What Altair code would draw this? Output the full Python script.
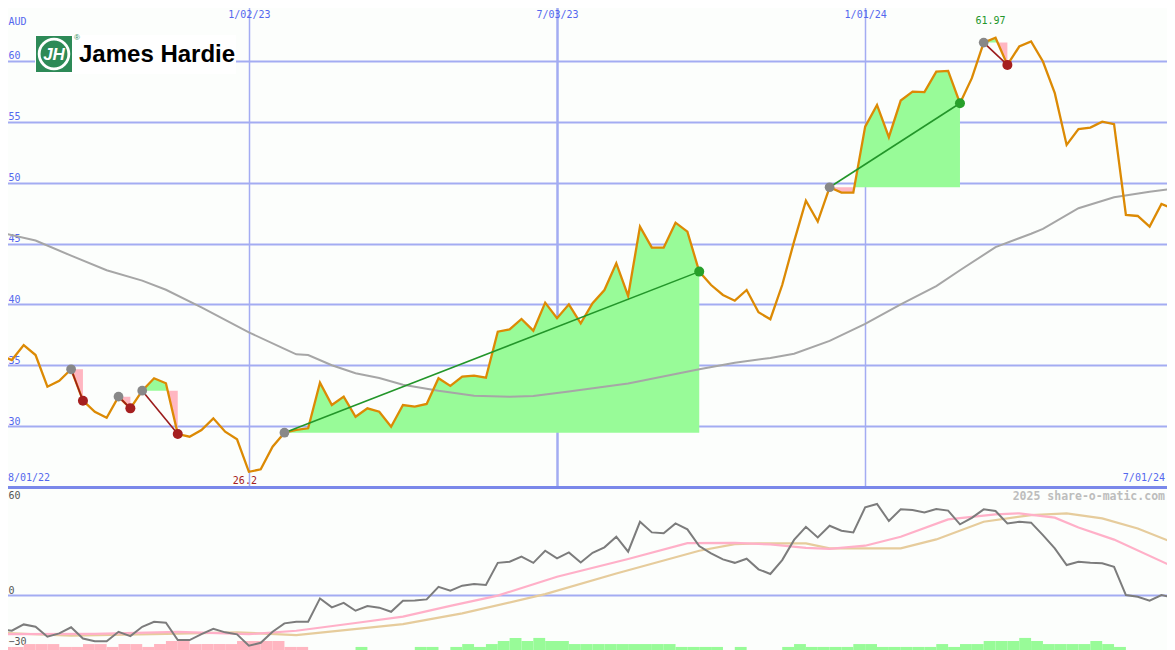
import altair as alt
import pandas as pd

# ---------------- data ----------------
first_week = "2022-08-08"      # first weekly close (left edge)
x_end = "2024-07-02"           # right edge of the time axis
currency = "AUD"
brand = "James Hardie"
watermark = "2025 share-o-matic.com"
edge_labels = ["8/01/22", "7/01/24"]

# weekly closing prices (AUD), one per week from first_week
price = [35.84, 35.43, 36.66, 35.84, 33.24, 33.73, 34.67, 32.09, 31.18, 30.69,
         32.42, 31.46, 32.91, 33.93, 33.52, 29.35, 29.13, 29.68, 30.64, 29.54,
         28.92, 26.25, 26.45, 28.31, 29.46, 29.70, 29.82, 33.57, 31.73, 32.42,
         30.77, 31.46, 31.18, 29.95, 31.73, 31.60, 31.82, 33.93, 33.30, 34.06,
         34.14, 33.98, 37.76, 37.95, 38.80, 37.84, 40.14, 38.86, 40.00, 38.45,
         40.09, 41.18, 43.38, 40.69, 46.39, 44.66, 44.66, 46.71, 45.97, 42.69,
         41.59, 40.77, 40.30, 41.18, 39.35, 38.78, 41.59, 45.15, 48.52, 46.80,
         49.62, 49.18, 49.18, 54.60, 56.38, 53.73, 56.74, 57.48, 57.43, 59.12,
         59.18, 56.52, 58.58, 61.50, 61.90, 59.67, 61.18, 61.59, 59.95, 57.35,
         53.10, 54.39, 54.52, 55.01, 54.80, 47.35, 47.26, 46.39, 48.25, 47.84]

# long moving average (grey), sampled at these week numbers
ma_week = [0, 3, 6, 9, 12, 14, 17, 21, 24, 25, 26, 28, 30, 32, 34, 37, 40, 43, 45,
           48, 53, 59, 62, 65, 67, 70, 73, 76, 79, 81, 84, 87, 88, 91, 94, 97, 99]
ma_value = [45.9, 45.25, 44.0, 42.8, 41.95, 41.2, 39.75, 37.7, 36.35, 35.9, 35.84,
            35.0, 34.35, 33.95, 33.4, 32.9, 32.5, 32.42, 32.47, 32.85, 33.5, 34.67,
            35.2, 35.6, 35.95, 37.0, 38.4, 40.0, 41.5, 42.8, 44.7, 45.8, 46.2, 47.9,
            48.8, 49.25, 49.5]

# lower panel: oscillator (dark grey), one per week
osc = [-19.1, -19.8, -16.3, -17.6, -23.1, -21.3, -17.9, -24.1, -25.6, -25.6,
       -20.4, -22.8, -17.6, -14.8, -15.4, -25.0, -25.0, -21.7, -18.7, -20.7,
       -21.8, -28.1, -26.5, -20.4, -15.7, -14.8, -14.8, -1.85, -6.85, -4.3,
       -8.7, -6.1, -7.0, -9.3, -3.1, -3.0, -2.4, 4.6, 2.4, 5.2,
       6.1, 5.6, 17.9, 18.5, 21.3, 17.9, 24.6, 20.4, 23.7, 18.1,
       23.5, 26.5, 32.4, 24.1, 40.7, 34.8, 34.3, 39.8, 36.5, 27.2,
       23.1, 19.8, 17.9, 20.2, 14.3, 11.7, 19.4, 30.6, 37.9, 32.0,
       38.5, 35.7, 34.8, 48.7, 50.6, 41.1, 47.6, 47.2, 45.9, 47.8,
       46.9, 39.3, 42.9, 47.6, 46.7, 39.8, 40.7, 40.2, 33.3, 25.9,
       16.7, 18.5, 17.9, 17.6, 15.7, 0.0, -0.9, -3.1, 0.0, -1.3]

# lower panel: fast signal (pink) and slow signal (tan)
pink_week = [0, 8, 15, 21, 25, 30, 34, 38, 42, 47, 53, 58, 62, 65, 68, 70, 73, 76,
             80, 84, 86, 89, 91, 94, 99]
pink_value = [-21.7, -21.5, -20.4, -21.7, -19.8, -15.5, -12.0, -6.0, -0.3, 10.2,
              20.0, 28.8, 29.0, 28.1, 26.2, 25.6, 27.4, 32.4, 42.0, 44.8, 45.4,
              43.0, 37.5, 30.8, 15.7]
tan_week = [0, 6, 14, 20, 25, 34, 39, 46, 52, 59, 62, 64, 68, 70, 76, 79, 83, 87,
            90, 93, 96, 99]
tan_value = [-20.9, -22.6, -21.5, -20.7, -22.2, -16.1, -10.2, 0.5, 12.0, 24.6,
             28.3, 28.7, 28.7, 25.9, 25.9, 30.9, 40.7, 44.4, 45.4, 42.6, 37.0, 29.1]

# lower panel: weekly histogram (negative = pink, positive = green)
hist = [-1.7, -1.7, -3.3, -3.3, -3.3, -1.7, -1.7, -3.3, -3.3, -1.7,
        -3.3, -3.3, -1.7, -3.3, -5.0, -5.0, -3.3, -3.3, -3.3, -3.3,
        -5.0, -5.0, -5.0, -5.0, -1.7, -1.7, 0, 0, 0, 0,
        1.7, 0, 0, 0, 0, 1.7, 1.7, 0, 1.7, 3.3,
        1.7, 3.3, 5.0, 6.7, 5.0, 6.7, 5.0, 5.0, 3.3, 3.3,
        3.3, 3.3, 3.3, 3.3, 3.3, 3.3, 3.3, 1.7, 1.7, 1.7,
        1.7, 0, 1.7, 0, 0, 0, 1.7, 3.3, 1.7, 1.7,
        1.7, 1.7, 3.3, 3.3, 1.7, 1.7, 1.7, 1.7, 1.7, 3.3,
        1.7, 3.3, 3.3, 5.0, 5.0, 5.0, 6.7, 5.0, 3.3, 3.3,
        3.3, 3.3, 5.0, 3.3, 1.7, 0, 0, 0, 0, 0]

# trades: week of entry and week of exit
trade_entry = [6, 10, 12, 24, 70, 83]
trade_exit = [7, 11, 15, 59, 81, 85]

low_label = (21, 26.2, "26.2")
high_label = (84, 61.97, "61.97")

price_ticks = [30, 35, 40, 45, 50, 55, 60]
osc_ticks = [-30, 0, 60]
date_ticks = ["2023-01-02", "2023-07-03", "2024-01-01"]

# ---------------- helpers ----------------
start = pd.Timestamp(first_week)
end = pd.Timestamp(x_end)


def wk(t):
    return start + pd.to_timedelta(7 * t, unit="D")


def dt(s):
    ts = pd.Timestamp(s)
    return alt.DateTime(year=ts.year, month=ts.month, date=ts.day)


MONO = "DejaVu Sans Mono"
BLUE = "#5468ee"
GRID = "#a3acf2"
ORANGE = "#dc8a04"
PALEGREEN = "#98fb98"
LIGHTPINK = "#ffb6c1"

x_scale = alt.Scale(domain=[dt(first_week), dt(x_end)])
x_axis = alt.Axis(orient="top", values=[dt(d) for d in date_ticks], format="%-m/%d/%y",
                  title=None, domain=False, ticks=False, tickSize=0,
                  labelPadding=-9, labelBaseline="top", labelColor=BLUE,
                  labelFont=MONO, labelFontSize=10, labelFlush=False, labelOverlap=False,
                  grid=True, gridColor=GRID,
                  gridWidth={"condition": {"test": "month(datum.value) == 6", "value": 2.5},
                             "value": 1.5})

top_scale = alt.Scale(domain=[25, 65], range=[487, 0], nice=False, zero=False)
top_axis = alt.Axis(orient="left", values=price_ticks, title=currency, titleAngle=0,
                    titleAlign="left", titleBaseline="bottom", titleX=8, titleY=26,
                    titleColor=BLUE, titleFont=MONO, titleFontSize=10,
                    titleFontWeight="normal", domain=False, ticks=False, tickSize=0,
                    labelAlign="left", labelBaseline="bottom", labelPadding=-8,
                    labelColor=BLUE, labelFont=MONO, labelFontSize=10, labelFlush=False,
                    grid=True, gridColor=GRID, gridWidth=2)

bot_scale = alt.Scale(domain=[-30.5, 60], range=[650, 487], nice=False, zero=False)
bot_axis = alt.Axis(orient="left", values=osc_ticks, title=None, domain=False,
                    ticks=False, tickSize=0, labelAlign="left",
                    labelBaseline={"condition": {"test": "datum.value == 60", "value": "top"},
                                   "value": "bottom"},
                    labelOffset={"condition": [{"test": "datum.value == 60", "value": 3},
                                               {"test": "datum.value == -30", "value": -3}],
                                 "value": 0},
                    labelPadding=-8, labelColor="#555555", labelFont=MONO,
                    labelFontSize=10, labelFlush=False,
                    grid=True,
                    gridColor={"condition": {"test": "datum.value == 60", "value": "#7a88ea"},
                               "value": GRID},
                    gridWidth={"condition": {"test": "datum.value == 60", "value": 3},
                               "value": 2},
                    gridOpacity={"condition": {"test": "datum.value < 0", "value": 0},
                                 "value": 1})


def X(field="date"):
    return alt.X(f"{field}:T", scale=x_scale, axis=x_axis)


def YT(field):
    return alt.Y(f"{field}:Q", scale=top_scale, axis=top_axis)


def YB(field):
    return alt.Y(f"{field}:Q", scale=bot_scale, axis=bot_axis)


# ---------------- tables ----------------
dates = [wk(i) for i in range(len(price))]
df_price = pd.DataFrame({"date": dates, "price": price})
df_ma = pd.DataFrame({"date": [wk(i) for i in ma_week], "ma": ma_value})
df_osc = pd.DataFrame({"date": dates, "osc": osc})
df_pink = pd.DataFrame({"date": [wk(i) for i in pink_week], "v": pink_value})
df_tan = pd.DataFrame({"date": [wk(i) for i in tan_week], "v": tan_value})

base = bot_scale.domain[0]
df_hist = pd.DataFrame({
    "date": dates,
    "date2": [wk(i + 1) for i in range(len(hist))],
    "base": [base] * len(hist),
    "top": [base + abs(h) for h in hist],
    "h": hist,
})
df_hist = df_hist[df_hist["h"] != 0]

# fills between price and entry level, split where price crosses the entry level
fill_rows = []
seg_id = 0
for a, b in zip(trade_entry, trade_exit):
    e = price[a]
    pts = [(float(a), price[a])]
    for i in range(a, b):
        p0, p1 = price[i], price[i + 1]
        if (p0 - e) * (p1 - e) < 0:
            pts.append((i + (e - p0) / (p1 - p0), e))
        pts.append((float(i + 1), p1))
    runs = []
    cur = None
    for (t0, p0), (t1, p1) in zip(pts[:-1], pts[1:]):
        s = "up" if (p0 + p1) / 2 >= e else "down"
        if cur is None or cur["s"] != s:
            cur = {"s": s, "pts": [(t0, p0)]}
            runs.append(cur)
        cur["pts"].append((t1, p1))
    for r in runs:
        seg_id += 1
        for t, p in r["pts"]:
            fill_rows.append({"date": wk(t), "y": p, "y2": e, "seg": seg_id, "s": r["s"]})
df_fill = pd.DataFrame(fill_rows)

df_trades = pd.DataFrame({
    "date": [wk(a) for a in trade_entry],
    "date2": [wk(b) for b in trade_exit],
    "p_in": [price[a] for a in trade_entry],
    "p_out": [price[b] for b in trade_exit],
})
df_trades["win"] = df_trades["p_out"] > df_trades["p_in"]

# ---------------- top panel ----------------
fill_up = alt.Chart(df_fill).transform_filter("datum.s == 'up'").mark_area(
    color=PALEGREEN, opacity=1).encode(x=X(), y=YT("y"), y2="y2:Q", detail="seg:N")
fill_dn = alt.Chart(df_fill).transform_filter("datum.s == 'down'").mark_area(
    color=LIGHTPINK, opacity=1).encode(x=X(), y=YT("y"), y2="y2:Q", detail="seg:N")

ma_line = alt.Chart(df_ma).mark_line(color="#a6a6a6", strokeWidth=2).encode(
    x=X(), y=YT("ma"))
price_line = alt.Chart(df_price).mark_line(color=ORANGE, strokeWidth=2.3).encode(
    x=X(), y=YT("price"))

rule_win = alt.Chart(df_trades).transform_filter("datum.win").mark_rule(
    color="#23962a", strokeWidth=1.6).encode(x=X(), x2="date2:T", y=YT("p_in"), y2="p_out:Q")
rule_loss = alt.Chart(df_trades).transform_filter("!datum.win").mark_rule(
    color="#9b1c1c", strokeWidth=1.6).encode(x=X(), x2="date2:T", y=YT("p_in"), y2="p_out:Q")

dot_in = alt.Chart(df_trades).mark_circle(color="#888888", size=95, opacity=1).encode(
    x=X(), y=YT("p_in"))
dot_win = alt.Chart(df_trades).transform_filter("datum.win").mark_circle(
    color="#27a02a", size=100, opacity=1).encode(x=X("date2"), y=YT("p_out"))
dot_loss = alt.Chart(df_trades).transform_filter("!datum.win").mark_circle(
    color="#a51f1f", size=100, opacity=1).encode(x=X("date2"), y=YT("p_out"))

df_low = pd.DataFrame({"date": [wk(low_label[0])], "v": [low_label[1]], "t": [low_label[2]]})
df_high = pd.DataFrame({"date": [wk(high_label[0])], "v": [high_label[1]], "t": [high_label[2]]})
low_txt = alt.Chart(df_low).mark_text(color="#a52020", font=MONO, fontSize=10,
                                      baseline="top", dy=4, dx=-4).encode(
    x=X(), y=YT("v"), text="t:N")
high_txt = alt.Chart(df_high).mark_text(color="#23962a", font=MONO, fontSize=10,
                                        baseline="bottom", dy=-11, dx=-5).encode(
    x=X(), y=YT("v"), text="t:N")

df_edge = pd.DataFrame({"date": [start, end], "v": [top_scale.domain[0]] * 2, "t": edge_labels})
edge_l = alt.Chart(df_edge.iloc[[0]]).mark_text(color=BLUE, font=MONO, fontSize=10,
                                                align="left", baseline="bottom",
                                                dx=8, dy=-4).encode(
    x=X(), y=YT("v"), text="t:N")
edge_r = alt.Chart(df_edge.iloc[[1]]).mark_text(color=BLUE, font=MONO, fontSize=10,
                                                align="right", baseline="bottom",
                                                dx=-10, dy=-4).encode(
    x=X(), y=YT("v"), text="t:N")

# logo (image element, drawn in pixel space)
df_logo = pd.DataFrame({"t": [brand]})
logo_bg = alt.Chart(df_logo).mark_rect(color="white").encode(
    x=alt.value(35), x2=alt.value(236), y=alt.value(35), y2=alt.value(74))
logo_sq = alt.Chart(df_logo).mark_rect(color="#2d8a57").encode(
    x=alt.value(36), x2=alt.value(72), y=alt.value(36), y2=alt.value(72))
logo_ring = alt.Chart(df_logo).mark_point(shape="circle", filled=False, color="white",
                                          strokeWidth=2.8, size=880, opacity=1).encode(
    x=alt.value(54), y=alt.value(54))
logo_jh = alt.Chart(df_logo).mark_text(text="JH", color="white", font="Liberation Sans",
                                       fontSize=17, fontWeight="bold", fontStyle="italic",
                                       align="center", baseline="middle").encode(
    x=alt.value(54), y=alt.value(55))
logo_reg = alt.Chart(df_logo).mark_text(text="®", color="#2d8a57", font="Liberation Sans",
                                        fontSize=8).encode(x=alt.value(77), y=alt.value(38))
logo_name = alt.Chart(df_logo).mark_text(color="black", font="Liberation Sans", fontSize=24,
                                         fontWeight="bold", align="left",
                                         baseline="alphabetic").encode(
    x=alt.value(79), y=alt.value(62), text="t:N")

top = alt.layer(fill_up, fill_dn, ma_line, price_line, rule_win, rule_loss, dot_in,
                dot_win, dot_loss, low_txt, high_txt, edge_l, edge_r,
                logo_bg, logo_sq, logo_ring, logo_jh, logo_reg, logo_name)

# ---------------- bottom panel ----------------
hist_neg = alt.Chart(df_hist).transform_filter("datum.h < 0").mark_rect(
    color=LIGHTPINK).encode(x=X(), x2="date2:T", y=YB("base"), y2="top:Q")
hist_pos = alt.Chart(df_hist).transform_filter("datum.h > 0").mark_rect(
    color=PALEGREEN).encode(x=X(), x2="date2:T", y=YB("base"), y2="top:Q")
tan_line = alt.Chart(df_tan).mark_line(color="#e6cc9c", strokeWidth=2.2).encode(
    x=X(), y=YB("v"))
pink_line = alt.Chart(df_pink).mark_line(color="#ffb0c8", strokeWidth=2.2).encode(
    x=X(), y=YB("v"))
osc_line = alt.Chart(df_osc).mark_line(color="#7c7c7c", strokeWidth=2).encode(
    x=X(), y=YB("osc"))
df_wm = pd.DataFrame({"date": [end], "v": [bot_scale.domain[1]], "t": [watermark]})
wm_txt = alt.Chart(df_wm).mark_text(color="#bdbdbd", font=MONO, fontSize=11.5,
                                    fontWeight="bold", align="right", baseline="top",
                                    dx=-10, dy=4).encode(x=X(), y=YB("v"), text="t:N")

bottom = alt.layer(hist_neg, hist_pos, tan_line, pink_line, osc_line, wm_txt)

chart = alt.layer(top, bottom).resolve_scale(y="independent").properties(
    width=1175, height=650,
    autosize=alt.AutoSizeParams(type="none"),
    padding={"left": -8, "top": -8, "right": -8, "bottom": 0},
    background="#fcfefc",
).configure_view(stroke=None)

chart.save("out.html", embed_options={"renderer": "svg", "actions": False})
